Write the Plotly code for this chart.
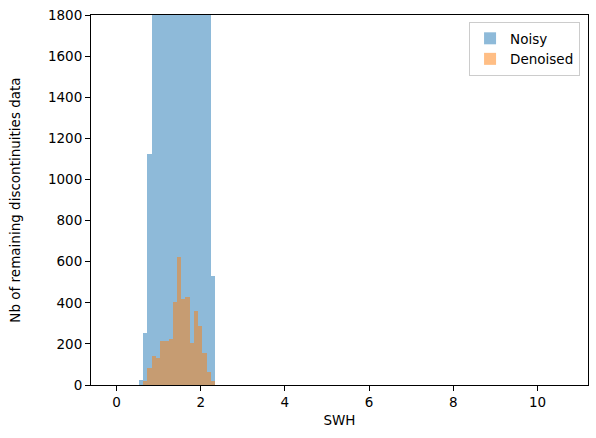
import plotly.graph_objects as go

# Histogram bin edges (SWH)
bin_edges = [0.535, 0.635, 0.736, 0.836, 0.936, 1.037, 1.137, 1.237, 1.337, 1.438,
             1.538, 1.638, 1.739, 1.839, 1.939, 2.040, 2.140, 2.240, 2.340]

# Counts per bin
noisy_counts = [24, 251, 1124, 2400, 3500, 4600, 5600, 6400, 6900, 7000,
                6600, 5900, 5100, 4200, 3300, 2600, 2100, 530]
denoised_counts = [0, 19, 84, 141, 133, 214, 214, 224, 405, 624,
                   417, 428, 206, 360, 287, 156, 65, 19]

x_ticks = [0, 2, 4, 6, 8, 10]
y_ticks = [0, 200, 400, 600, 800, 1000, 1200, 1400, 1600, 1800]

centers = [(a + b) / 2 for a, b in zip(bin_edges[:-1], bin_edges[1:])]
widths = [b - a for a, b in zip(bin_edges[:-1], bin_edges[1:])]

fig = go.Figure()
fig.add_trace(go.Bar(x=centers, y=noisy_counts, width=widths, name="Noisy",
                     marker=dict(color="#1f77b4", line=dict(width=0)), opacity=0.5))
fig.add_trace(go.Bar(x=centers, y=denoised_counts, width=widths, name="Denoised",
                     marker=dict(color="#ff7f0e", line=dict(width=0)), opacity=0.5))

font = dict(family="DejaVu Sans", size=13.5, color="black")
axis_common = dict(showgrid=False, zeroline=False, showline=True, linecolor="black",
                   linewidth=1, mirror=True, ticks="outside", ticklen=5, tickwidth=1,
                   tickcolor="black", tickfont=font)

fig.update_layout(
    width=596, height=438,
    margin=dict(l=91, r=8, t=15, b=53),
    paper_bgcolor="white", plot_bgcolor="white",
    barmode="overlay", bargap=0,
    font=font,
    xaxis=dict(range=[-0.606, 11.20], tickvals=x_ticks,
               title=dict(text="SWH", font=font, standoff=6), **axis_common),
    yaxis=dict(range=[0, 1800], tickvals=y_ticks,
               title=dict(text="Nb of remaining discontinuities data", font=font, standoff=24),
               **axis_common),
    legend=dict(x=0.984, y=0.981, xanchor="right", yanchor="top",
                bgcolor="rgba(255,255,255,0.8)", bordercolor="#cccccc", borderwidth=1,
                font=font, tracegroupgap=4),
    showlegend=True,
)

fig.write_html("out.html")
